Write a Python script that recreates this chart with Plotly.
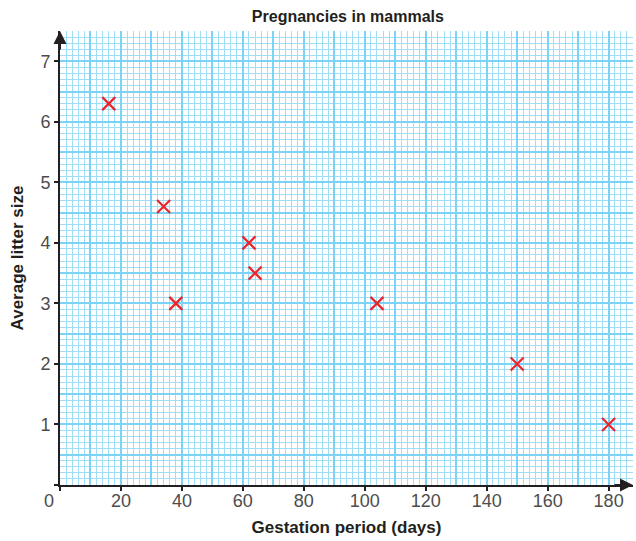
import plotly.graph_objects as go

# Data
gestation_days = [16, 34, 38, 62, 64, 104, 150, 180]
litter_size = [6.3, 4.6, 3.0, 4.0, 3.5, 3.0, 2.0, 1.0]

x_tick_vals = [0, 20, 40, 60, 80, 100, 120, 140, 160, 180]
x_tick_text = ["", "20", "40", "60", "80", "100", "120", "140", "160", "180"]
y_tick_vals = [0, 1, 2, 3, 4, 5, 6, 7]
y_tick_text = ["", "1", "2", "3", "4", "5", "6", "7"]

X_RANGE = [0, 188]
Y_RANGE = [0, 7.5]

AXIS_COLOR = "#231f20"
LABEL_COLOR = "#4d4d4d"
GRID_MAJOR = "#7dd3f5"
GRID_MINOR = "#a0ddf6"
MARK_RED = "#e8262d"
FONT = "Liberation Sans, Arial, sans-serif"

fig = go.Figure()

fig.add_trace(go.Scatter(
    x=gestation_days, y=litter_size,
    mode="markers",
    marker=dict(symbol="x-thin", size=13, line=dict(width=2.2, color=MARK_RED)),
    showlegend=False,
    hoverinfo="x+y",
))

# empty trace so the overlay tick axes get drawn
fig.add_trace(go.Scatter(
    x=X_RANGE, y=Y_RANGE, xaxis="x2", yaxis="y2",
    mode="markers", marker=dict(opacity=0), showlegend=False, hoverinfo="skip",
))

# primary axes carry the graph-paper grid and the axis lines
grid_x = dict(
    range=X_RANGE, dtick=10, tick0=0,
    showgrid=True, gridcolor=GRID_MAJOR, gridwidth=1.6,
    minor=dict(dtick=2, showgrid=True, gridcolor=GRID_MINOR, gridwidth=1),
    showticklabels=False, ticks="",
    showline=True, linecolor=AXIS_COLOR, linewidth=2,
    zeroline=False, fixedrange=True, automargin=False,
)
grid_y = dict(
    range=Y_RANGE, dtick=0.5, tick0=0,
    showgrid=True, gridcolor=GRID_MAJOR, gridwidth=1.6,
    minor=dict(dtick=0.1, showgrid=True, gridcolor=GRID_MINOR, gridwidth=1),
    showticklabels=False, ticks="",
    showline=True, linecolor=AXIS_COLOR, linewidth=2,
    zeroline=False, fixedrange=True, automargin=False,
)

# overlay axes carry tick marks and labels only
tick_x = dict(
    overlaying="x", anchor="y2", side="bottom",
    range=X_RANGE, tickmode="array", tickvals=x_tick_vals, ticktext=x_tick_text,
    ticks="outside", ticklen=5, tickwidth=2, tickcolor=AXIS_COLOR,
    tickfont=dict(family=FONT, size=18, color=LABEL_COLOR),
    ticklabelstandoff=-6,
    showgrid=False, zeroline=False, showline=False, automargin=False,
    fixedrange=True,
    title=dict(text="<b>Gestation period (days)</b>", standoff=11,
               font=dict(family=FONT, size=17, color=AXIS_COLOR)),
)
tick_y = dict(
    overlaying="y", anchor="x2", side="left",
    range=Y_RANGE, tickmode="array", tickvals=y_tick_vals, ticktext=y_tick_text,
    ticks="outside", ticklen=5, tickwidth=2, tickcolor=AXIS_COLOR,
    tickfont=dict(family=FONT, size=18, color=LABEL_COLOR),
    showgrid=False, zeroline=False, showline=False, automargin=False,
    fixedrange=True,
    title=dict(text="<b>Average litter size</b>", standoff=12,
               font=dict(family=FONT, size=17, color=AXIS_COLOR)),
)

fig.update_layout(
    width=636, height=541,
    paper_bgcolor="white", plot_bgcolor="white",
    margin=dict(l=60, r=3, t=31, b=56, autoexpand=False),
    title=dict(text="<b>Pregnancies in mammals</b>", x=0.547, xanchor="center",
               y=0.97, yanchor="middle",
               font=dict(family=FONT, size=16, color=AXIS_COLOR)),
    xaxis=grid_x, yaxis=grid_y,
    xaxis2=tick_x, yaxis2=tick_y,
    showlegend=False,
)

# shared origin label
fig.add_annotation(x=0, y=0, xref="x", yref="y", text="0", showarrow=False,
                   xshift=-11, yshift=-4, yanchor="top",
                   font=dict(family=FONT, size=18, color=LABEL_COLOR))

# arrow heads on the axes
fig.add_annotation(x=0, y=Y_RANGE[1], xref="x", yref="y", ax=0, ay=20,
                   text="", showarrow=True, arrowhead=2, arrowsize=1.3,
                   arrowwidth=2, arrowcolor=AXIS_COLOR)
fig.add_annotation(x=X_RANGE[1], y=0, xref="x", yref="y", ax=-20, ay=0,
                   text="", showarrow=True, arrowhead=2, arrowsize=1.3,
                   arrowwidth=2, arrowcolor=AXIS_COLOR)

fig.write_html("out.html", config={"displayModeBar": False},
               post_script="document.body.style.margin='0';")
